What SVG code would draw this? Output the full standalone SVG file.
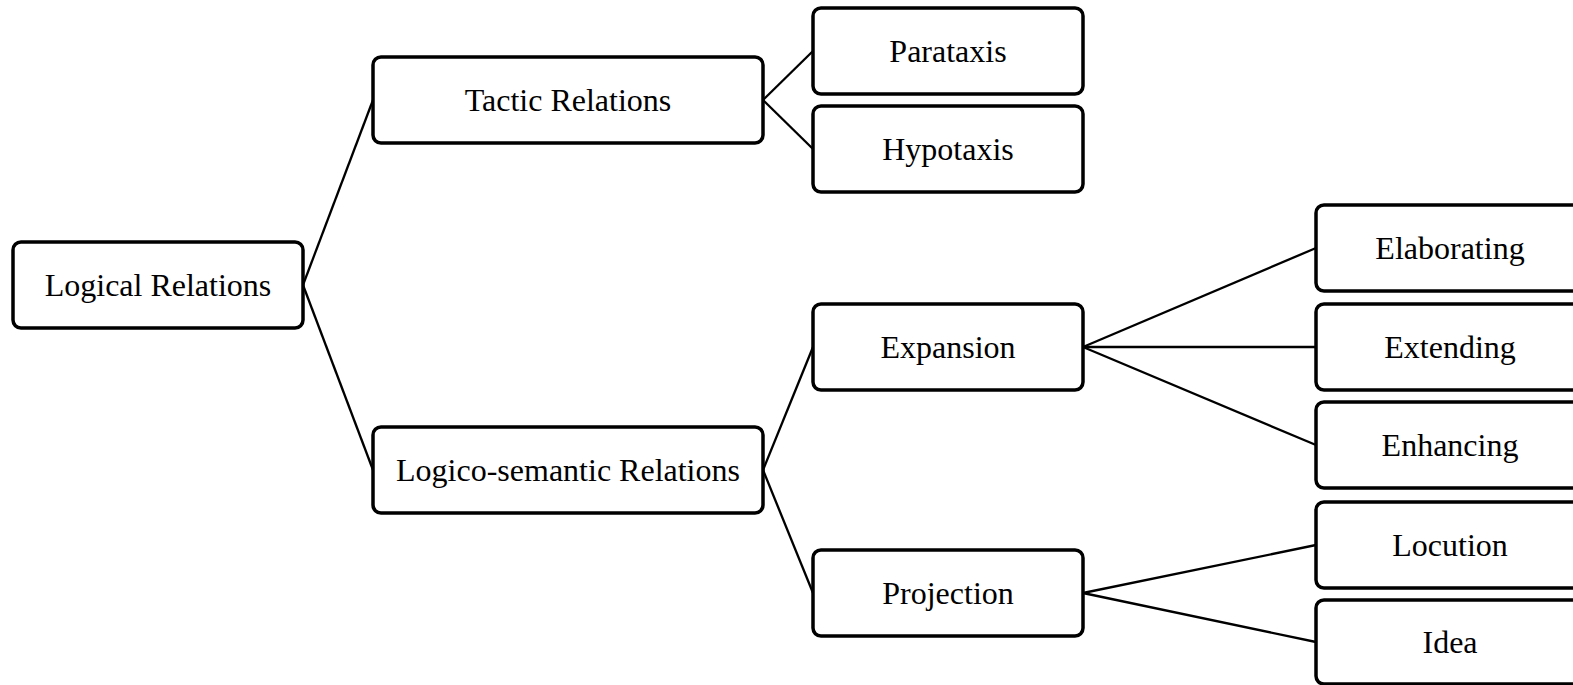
<svg xmlns="http://www.w3.org/2000/svg" width="1573" height="685" viewBox="0 0 1573 685">
  <style>
    .box { fill: #ffffff; stroke: #000000; stroke-width: 3.5; }
    .lbl { font-family: "Liberation Serif", "Times New Roman", serif; font-size: 32px; fill: #000000; text-anchor: middle; }
    .link { stroke: #000000; stroke-width: 2.3; fill: none; }
  </style>
  <rect width="1573" height="685" fill="#ffffff"/>

  <!-- tree connectors -->
  <g id="connectors">
    <line class="link" x1="303" y1="285" x2="373" y2="100"/>
    <line class="link" x1="303" y1="285" x2="373" y2="470"/>
    <line class="link" x1="763" y1="100" x2="813" y2="51"/>
    <line class="link" x1="763" y1="100" x2="813" y2="149"/>
    <line class="link" x1="763" y1="470" x2="813" y2="347"/>
    <line class="link" x1="763" y1="470" x2="813" y2="593"/>
    <line class="link" x1="1083" y1="347" x2="1316" y2="248"/>
    <line class="link" x1="1083" y1="347" x2="1316" y2="347"/>
    <line class="link" x1="1083" y1="347" x2="1316" y2="445"/>
    <line class="link" x1="1083" y1="593" x2="1316" y2="545"/>
    <line class="link" x1="1083" y1="593" x2="1316" y2="642"/>
  </g>

  <g id="logical-relations">
    <rect class="box" x="13" y="242" width="290" height="86" rx="8"/>
    <text class="lbl" x="158" y="296">Logical Relations</text>
  </g>
  <g id="tactic-relations">
    <rect class="box" x="373" y="57" width="390" height="86" rx="8"/>
    <text class="lbl" x="568" y="111">Tactic Relations</text>
  </g>
  <g id="logico-semantic-relations">
    <rect class="box" x="373" y="427" width="390" height="86" rx="8"/>
    <text class="lbl" x="568" y="481">Logico-semantic Relations</text>
  </g>
  <g id="parataxis">
    <rect class="box" x="813" y="8" width="270" height="86" rx="8"/>
    <text class="lbl" x="948" y="62">Parataxis</text>
  </g>
  <g id="hypotaxis">
    <rect class="box" x="813" y="106" width="270" height="86" rx="8"/>
    <text class="lbl" x="948" y="160">Hypotaxis</text>
  </g>
  <g id="expansion">
    <rect class="box" x="813" y="304" width="270" height="86" rx="8"/>
    <text class="lbl" x="948" y="358">Expansion</text>
  </g>
  <g id="projection">
    <rect class="box" x="813" y="550" width="270" height="86" rx="8"/>
    <text class="lbl" x="948" y="604">Projection</text>
  </g>
  <g id="elaborating">
    <rect class="box" x="1316" y="205" width="270" height="86" rx="8"/>
    <text class="lbl" x="1450" y="259">Elaborating</text>
  </g>
  <g id="extending">
    <rect class="box" x="1316" y="304" width="270" height="86" rx="8"/>
    <text class="lbl" x="1450" y="358">Extending</text>
  </g>
  <g id="enhancing">
    <rect class="box" x="1316" y="402" width="270" height="86" rx="8"/>
    <text class="lbl" x="1450" y="456">Enhancing</text>
  </g>
  <g id="locution">
    <rect class="box" x="1316" y="502" width="270" height="86" rx="8"/>
    <text class="lbl" x="1450" y="556">Locution</text>
  </g>
  <g id="idea">
    <rect class="box" x="1316" y="600" width="270" height="84" rx="8"/>
    <text class="lbl" x="1450" y="653">Idea</text>
  </g>
</svg>
